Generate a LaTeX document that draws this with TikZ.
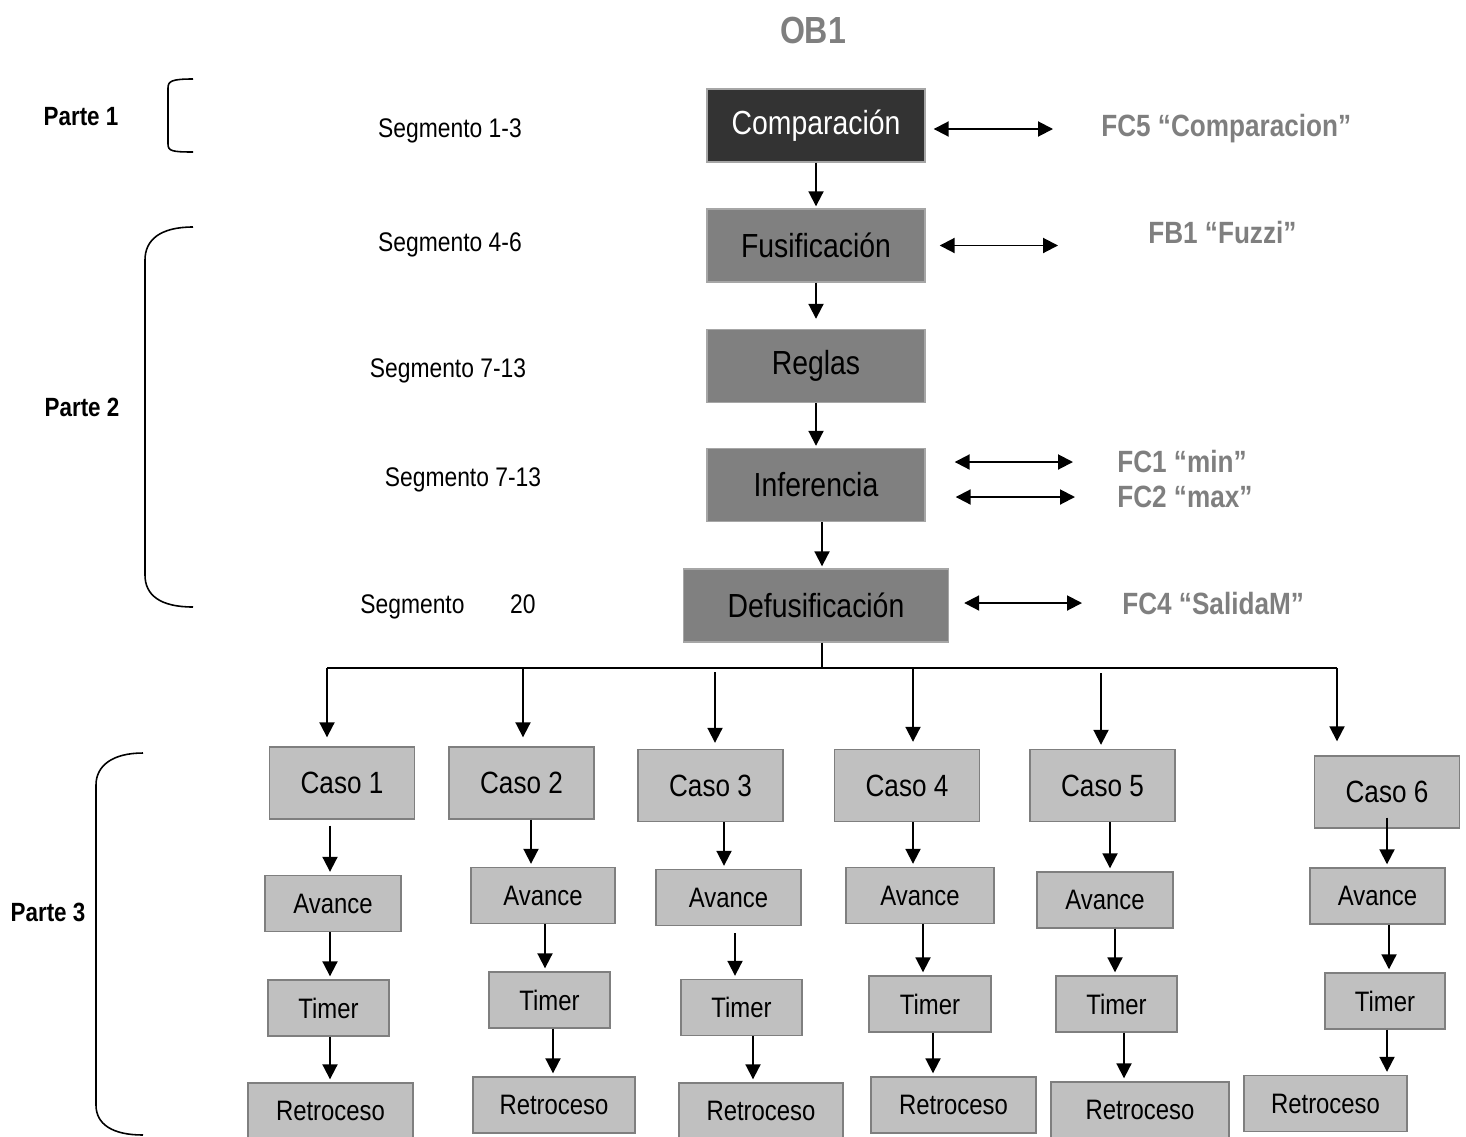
\documentclass[tikz,border=0pt]{standalone}
\usepackage{fontspec}
\setmainfont[FakeStretch=0.85]{Liberation Sans}
\usetikzlibrary{arrows.meta}
\definecolor{boxdark}{HTML}{333333}
\definecolor{boxmid}{HTML}{808080}
\definecolor{boxlight}{HTML}{C0C0C0}
\definecolor{edgegray}{HTML}{7F7F7F}
\definecolor{fcgray}{HTML}{7F7F7F}

\begin{document}
\begin{tikzpicture}[x=0.02cm, y=-0.02cm,
  mainbox/.style={rectangle, fill=boxmid, draw=gray!70, line width=0.8pt, minimum width=4.36cm, minimum height=1.46cm, font=\fontsize{19}{21}\selectfont},
  casobox/.style={rectangle, fill=boxlight, draw=edgegray, line width=0.8pt, minimum width=2.9cm, minimum height=1.44cm, font=\fontsize{17.5}{20}\selectfont},
  subbox/.style={rectangle, fill=boxlight, draw=edgegray, line width=0.8pt, minimum height=1.12cm, font=\fontsize{16}{18}\selectfont},
  fclabel/.style={anchor=west, inner sep=0pt, text=fcgray, font=\bfseries\fontsize{17.5}{20}\selectfont},
  seglabel/.style={font=\fontsize{15.3}{18}\selectfont},
  partelabel/.style={font=\bfseries\fontsize{15}{18}\selectfont},
  arr/.style={-{Triangle[length=0.3cm,width=0.3cm]}, line width=1.1pt, shorten >=0.06cm},
  dblarr/.style={{Triangle[length=0.3cm,width=0.3cm]}-{Triangle[length=0.3cm,width=0.3cm]}, line width=1.1pt},
  brack/.style={line width=0.9pt}]

\useasboundingbox (0,0) rectangle (1466,1136);

\node[text=fcgray, font=\bfseries\fontsize{21.5}{24}\selectfont] (title) at (813,30) {OB1};

\node[mainbox, fill=boxdark, text=white] (comp) at (816,125.5) {Comparación};
\node[mainbox] (fusi) at (816,245.5) {Fusificación};
\node[mainbox] (reglas) at (816,366) {Reglas};
\node[mainbox] (infer) at (816,485) {Inferencia};
\node[mainbox, minimum width=5.3cm] (defu) at (816,605.5) {Defusificación};

\node[fclabel] (fc5) at (1101,129) {FC5 “Comparacion”};
\node[fclabel] (fb1) at (1148,233) {FB1 “Fuzzi”};
\node[fclabel] (fc1) at (1117,462) {FC1 “min”};
\node[fclabel] (fc2) at (1117,497) {FC2 “max”};
\node[fclabel] (fc4) at (1122,603) {FC4 “SalidaM”};

\node[seglabel] (seg1) at (450,131) {Segmento 1-3};
\node[seglabel] (seg2) at (450,245) {Segmento 4-6};
\node[seglabel] (seg3) at (448,371) {Segmento 7-13};
\node[seglabel] (seg4) at (463,480) {Segmento 7-13};
\node[seglabel] (seg5) at (448,607) {Segmento\hspace{1.7em}20};

\node[partelabel] (parte1) at (81,117) {Parte 1};
\node[partelabel] (parte2) at (82,407) {Parte 2};
\node[partelabel] (parte3) at (48,912) {Parte 3};

\node[casobox] (c1) at (342,783) {Caso 1};
\node[casobox] (c2) at (521.5,783) {Caso 2};
\node[casobox] (c3) at (710.5,785.5) {Caso 3};
\node[casobox] (c4) at (907,785.5) {Caso 4};
\node[casobox] (c5) at (1102.5,785.5) {Caso 5};
\node[casobox] (c6) at (1387,792) {Caso 6};

\node[subbox, minimum width=2.72cm] (a1) at (333,903.5) {Avance};
\node[subbox, minimum width=2.88cm] (a2) at (543,895.5) {Avance};
\node[subbox, minimum width=2.9cm] (a3) at (728.5,897.5) {Avance};
\node[subbox, minimum width=2.96cm] (a4) at (920,895.5) {Avance};
\node[subbox, minimum width=2.72cm] (a5) at (1105,900) {Avance};
\node[subbox, minimum width=2.7cm] (a6) at (1377.5,896) {Avance};

\node[subbox, minimum width=2.42cm] (t1) at (328.5,1008) {Timer};
\node[subbox, minimum width=2.42cm] (t2) at (549.5,1000) {Timer};
\node[subbox, minimum width=2.42cm] (t3) at (741.5,1007.5) {Timer};
\node[subbox, minimum width=2.44cm] (t4) at (930,1004) {Timer};
\node[subbox, minimum width=2.42cm] (t5) at (1116.5,1004) {Timer};
\node[subbox, minimum width=2.4cm] (t6) at (1385,1001) {Timer};

\node[subbox, minimum width=3.3cm] (r1) at (330.5,1111) {Retroceso};
\node[subbox, minimum width=3.24cm] (r2) at (554,1105) {Retroceso};
\node[subbox, minimum width=3.28cm] (r3) at (761,1111) {Retroceso};
\node[subbox, minimum width=3.3cm] (r4) at (953.5,1105) {Retroceso};
\node[subbox, minimum width=3.56cm] (r5) at (1140,1110) {Retroceso};
\node[subbox, minimum width=3.26cm] (r6) at (1325.5,1103.5) {Retroceso};

\coordinate (split) at (822,668);
\coordinate (b1) at (327,668);
\coordinate (b2) at (523,668);
\coordinate (b3) at (715,668);
\coordinate (b4) at (913,668);
\coordinate (b5) at (1101,668);
\coordinate (b6) at (1337,668);

\draw[arr, shorten >=0.04cm] (comp.south) -- (fusi.north);
\draw[arr, shorten >=0.2cm] (fusi.south) -- (reglas.north);
\draw[arr, shorten >=0.04cm] (reglas.south) -- (infer.north);
\draw[arr, shorten >=0.04cm] (infer.south -| split) -- (defu.north -| split);
\draw[line width=1.1pt] (defu.south -| split) -- (split);
\draw[line width=1.1pt] (b1) -- (b6);

\draw[dblarr, shorten <=0.16cm, shorten >=0.96cm] (comp.east |- fc5.west) -- (fc5.west);
\draw[dblarr, shorten <=0.28cm, shorten >=1.8cm] (fusi.east) -- (fusi.east -| fb1.west);
\draw[dblarr, shorten <=0.58cm, shorten >=0.88cm] (infer.east |- fc1.west) -- (fc1.west);
\draw[dblarr, shorten <=0.6cm, shorten >=0.84cm] (infer.east |- fc2.west) -- (fc2.west);
\draw[dblarr, shorten <=0.3cm, shorten >=0.8cm] (defu.east |- fc4.west) -- (fc4.west);

\draw[arr, shorten >=0.18cm] (b1) -- (c1.north -| b1);
\draw[arr, shorten >=0.18cm] (b2) -- (c2.north -| b2);
\draw[arr, shorten <=0.08cm, shorten >=0.12cm] (b3) -- (c3.north -| b3);
\draw[arr, shorten >=0.14cm] (b4) -- (c4.north -| b4);
\draw[arr, shorten <=0.1cm, shorten >=0.08cm] (b5) -- (c5.north -| b5);
\draw[arr, shorten >=0.28cm] (b6) -- (c6.north -| b6);

\draw[arr, shorten <=0.12cm] (c1.south -| 330,0) -- (a1.north -| 330,0);
\draw[arr] (a1.south -| 330,0) -- (t1.north -| 330,0);
\draw[arr] (t1.south -| 330,0) -- (r1.north -| 330,0);
\draw[arr] (c2.south -| 531,0) -- (a2.north -| 531,0);
\draw[arr] (a2.south -| 545,0) -- (t2.north -| 545,0);
\draw[arr] (t2.south -| 553,0) -- (r2.north -| 553,0);
\draw[arr] (c3.south -| 724,0) -- (a3.north -| 724,0);
\draw[arr, shorten <=0.14cm] (a3.south -| 735,0) -- (t3.north -| 735,0);
\draw[arr] (t3.south -| 753,0) -- (r3.north -| 753,0);
\draw[arr] (c4.south -| 913,0) -- (a4.north -| 913,0);
\draw[arr] (a4.south -| 923,0) -- (t4.north -| 923,0);
\draw[arr] (t4.south -| 933,0) -- (r4.north -| 933,0);
\draw[arr] (c5.south -| 1110,0) -- (a5.north -| 1110,0);
\draw[arr] (a5.south -| 1115,0) -- (t5.north -| 1115,0);
\draw[arr] (t5.south -| 1124,0) -- (r5.north -| 1124,0);
\draw[arr, shorten <=-0.22cm] (c6.south -| 1387,0) -- (a6.north -| 1387,0);
\draw[arr] (a6.south -| 1389,0) -- (t6.north -| 1389,0);
\draw[arr] (t6.south -| 1387,0) -- (r6.north -| 1387,0);

\draw[brack] (193,79) .. controls (172,79) and (168,81) .. (168,88) -- (168,144) .. controls (168,151) and (172,152) .. (193,152);
\draw[brack] (193,227) .. controls (160,227) and (145,240) .. (145,260) -- (145,575) .. controls (145,595) and (160,607) .. (193,607);
\draw[brack] (143,753) .. controls (112,753) and (96,766) .. (96,785) -- (96,1105) .. controls (96,1124) and (112,1135) .. (143,1135);

\end{tikzpicture}
\end{document}
